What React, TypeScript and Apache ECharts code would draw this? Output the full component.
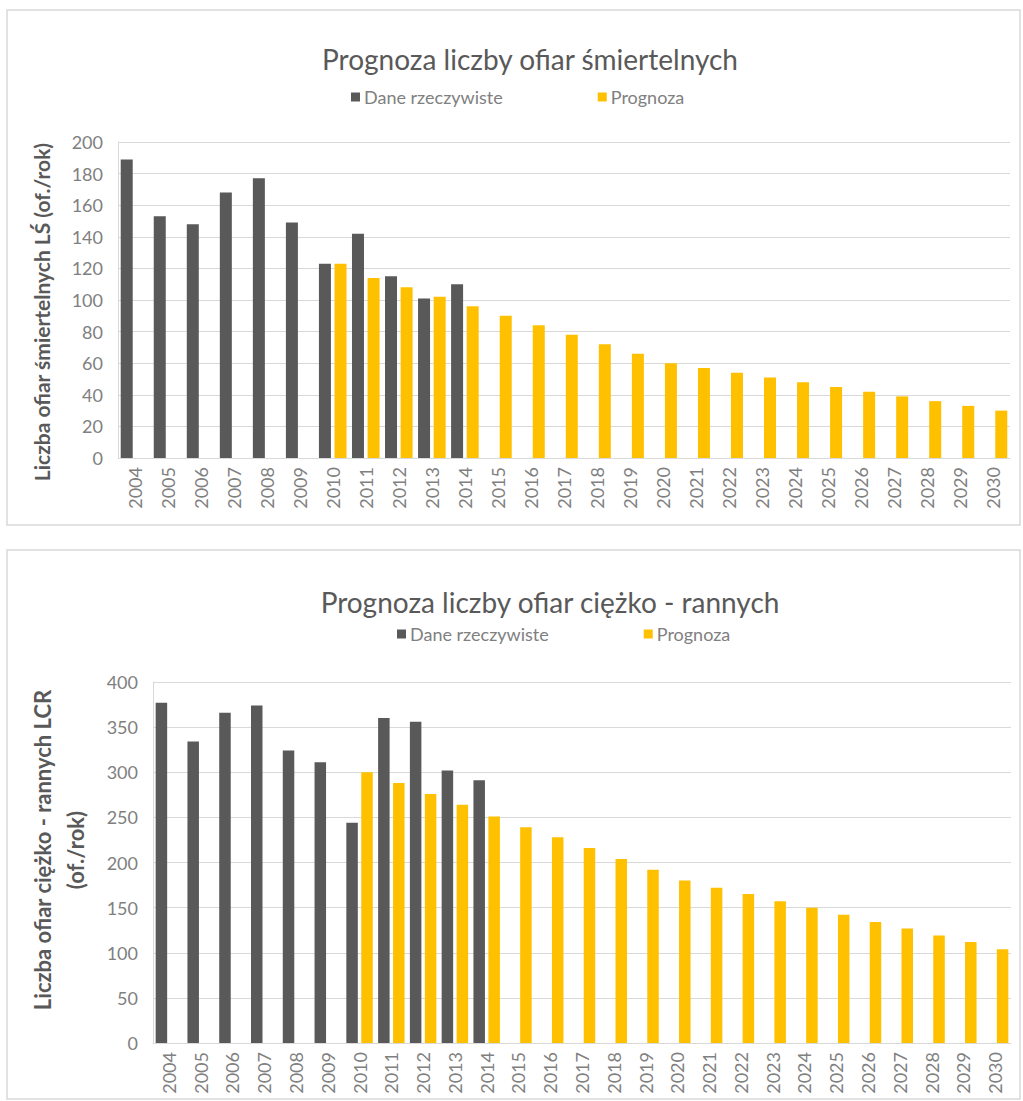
import React, { useEffect, useRef } from "react";
import * as echarts from "echarts";

const years = [
  "2004", "2005", "2006", "2007", "2008", "2009", "2010", "2011", "2012",
  "2013", "2014", "2015", "2016", "2017", "2018", "2019", "2020", "2021",
  "2022", "2023", "2024", "2025", "2026", "2027", "2028", "2029", "2030",
];

const fatalActual = [
  189, 153, 148, 168, 177, 149, 123, 142, 115, 101, 110,
  null, null, null, null, null, null, null, null, null, null, null, null, null, null, null, null,
];
const fatalForecast = [
  null, null, null, null, null, null,
  123, 114, 108, 102, 96, 90, 84, 78, 72, 66, 60, 57, 54, 51, 48, 45, 42, 39, 36, 33, 30,
];

const injuredActual = [
  377, 334, 366, 374, 324, 311, 244, 360, 356, 302, 291,
  null, null, null, null, null, null, null, null, null, null, null, null, null, null, null, null,
];
const injuredForecast = [
  null, null, null, null, null, null,
  300, 288, 276, 264, 251, 239, 228, 216, 204, 192, 180, 172, 165, 157, 150, 142, 134, 127, 119, 112, 104,
];

const seriesNames = ["Dane rzeczywiste", "Prognoza"];
const titles = ["Prognoza liczby ofiar śmiertelnych", "Prognoza liczby ofiar ciężko - rannych"];
const yTitles = ["Liczba ofiar śmiertelnych LŚ (of./rok)", "Liczba ofiar ciężko - rannych LCR\n(of./rok)"];

const FONT = "Lato, 'Noto Sans', sans-serif";
const DARK = "#595959";
const YELLOW = "#FFC000";
const LABEL = "#808080";
const GRID = "#d9d9d9";

export default function App() {
  const ref = useRef<HTMLDivElement>(null);

  useEffect(() => {
    if (!ref.current) return;
    const chart = echarts.init(ref.current, null, { renderer: "svg" });

    const xAxisBase = (gridIndex: number) => ({
      type: "category" as const,
      gridIndex,
      data: years,
      axisTick: { show: false },
      axisLine: { lineStyle: { color: GRID, width: 1 } },
      axisLabel: {
        rotate: 90,
        color: LABEL,
        fontSize: 18,
        fontFamily: FONT,
        margin: 9,
        interval: 0,
      },
    });
    const yAxisBase = (gridIndex: number, max: number, interval: number) => ({
      type: "value" as const,
      gridIndex,
      min: 0,
      max,
      interval,
      axisLine: { show: true, lineStyle: { color: GRID, width: 1 } },
      axisTick: { show: false },
      splitLine: { lineStyle: { color: GRID, width: 1 } },
      axisLabel: { color: LABEL, fontSize: 18, fontFamily: FONT, margin: 15 },
    });

    const legendBase = (left: number, top: number) => ({
      data: seriesNames,
      left,
      top,
      padding: 0,
      itemWidth: 9,
      itemHeight: 9,
      itemGap: 95,
      icon: "rect",
      textStyle: { color: LABEL, fontSize: 18, fontFamily: FONT, padding: [0, 0, 0, -1] },
    });

    const option = {
      animation: false,
      backgroundColor: "#ffffff",
      textStyle: { fontFamily: FONT },
      title: [
        {
          text: titles[0],
          left: 530,
          top: 45,
          padding: 0,
          textAlign: "center",
          textStyle: { color: DARK, fontSize: 28, fontWeight: "normal", fontFamily: FONT },
        },
        {
          text: titles[1],
          left: 550,
          top: 588,
          padding: 0,
          textAlign: "center",
          textStyle: { color: DARK, fontSize: 28, fontWeight: "normal", fontFamily: FONT },
        },
      ],
      legend: [legendBase(351, 88), legendBase(397, 625)],
      grid: [
        { left: 118, right: 13, top: 142, height: 316 },
        { left: 153, right: 12, top: 682, height: 361 },
      ],
      xAxis: [xAxisBase(0), xAxisBase(1)],
      yAxis: [yAxisBase(0, 200, 20), yAxisBase(1, 400, 50)],
      series: [
        {
          name: seriesNames[0],
          type: "bar",
          xAxisIndex: 0,
          yAxisIndex: 0,
          data: fatalActual,
          barWidth: 12,
          barGap: "30%",
          itemStyle: { color: DARK },
        },
        {
          name: seriesNames[1],
          type: "bar",
          xAxisIndex: 0,
          yAxisIndex: 0,
          data: fatalForecast,
          barWidth: 12,
          barGap: "30%",
          itemStyle: { color: YELLOW },
        },
        {
          name: seriesNames[0],
          type: "bar",
          xAxisIndex: 1,
          yAxisIndex: 1,
          data: injuredActual,
          barWidth: 11.5,
          barGap: "30%",
          itemStyle: { color: DARK },
        },
        {
          name: seriesNames[1],
          type: "bar",
          xAxisIndex: 1,
          yAxisIndex: 1,
          data: injuredForecast,
          barWidth: 11.5,
          barGap: "30%",
          itemStyle: { color: YELLOW },
        },
      ],
      graphic: [
        {
          type: "rect",
          shape: { x: 7, y: 10, width: 1013, height: 515 },
          style: { fill: "none", stroke: GRID, lineWidth: 1.5 },
          silent: true,
        },
        {
          type: "rect",
          shape: { x: 7, y: 550, width: 1013, height: 549 },
          style: { fill: "none", stroke: GRID, lineWidth: 1.5 },
          silent: true,
        },
        {
          type: "text",
          x: 41,
          y: 312,
          rotation: Math.PI / 2,
          style: {
            text: yTitles[0],
            fill: DARK,
            font: `bold 21px ${FONT}`,
            align: "center",
            verticalAlign: "middle",
          },
          silent: true,
        },
        {
          type: "text",
          x: 59,
          y: 850,
          rotation: Math.PI / 2,
          style: {
            text: yTitles[1],
            fill: DARK,
            font: `bold 22px ${FONT}`,
            align: "center",
            verticalAlign: "middle",
            lineHeight: 33,
          },
          silent: true,
        },
      ],
    };

    chart.setOption(option as any);
    return () => chart.dispose();
  }, []);

  return (
    <div
      ref={ref}
      style={{ position: "absolute", left: 0, top: 0, width: 1023, height: 1101 }}
    />
  );
}
